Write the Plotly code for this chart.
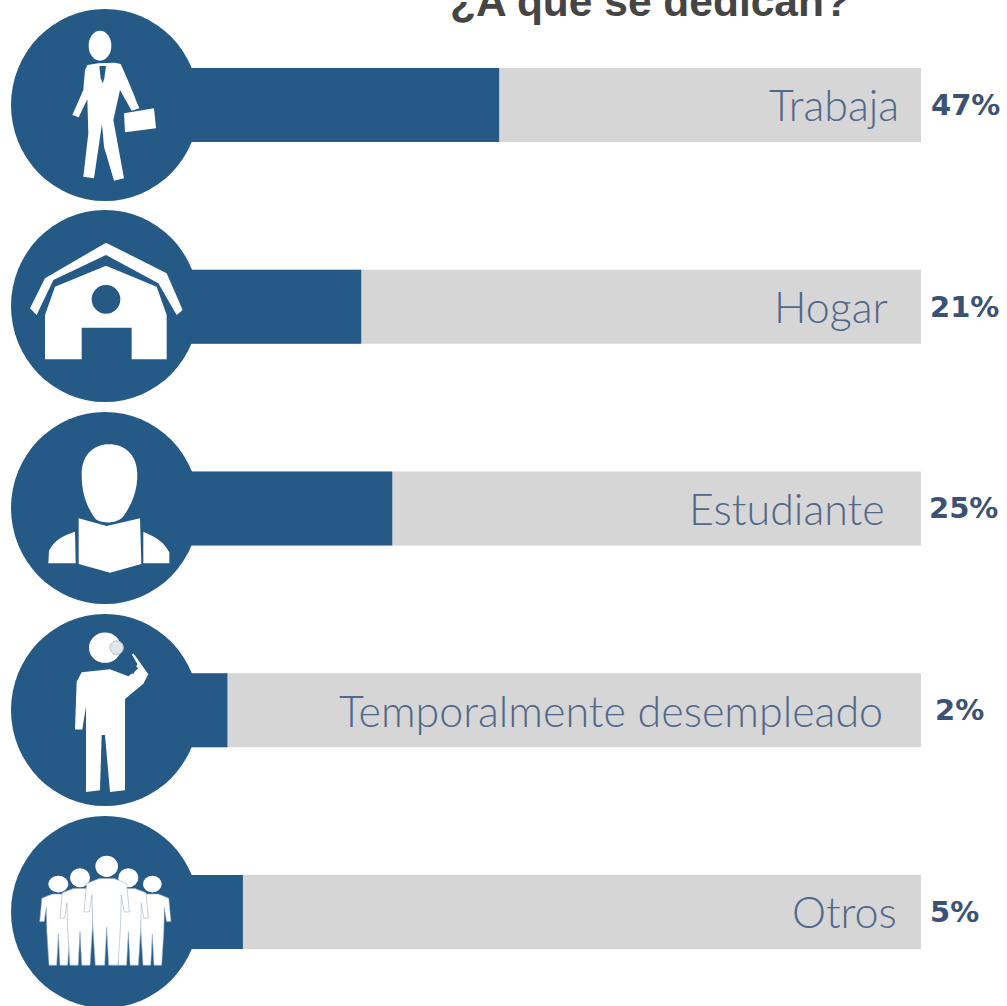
import re
import plotly.graph_objects as go

# ---- data ----
categories = ["Trabaja", "Hogar", "Estudiante", "Temporalmente desempleado", "Otros"]
percent_labels = ["47%", "21%", "25%", "2%", "5%"]
# filled share of each track, as drawn (the picture's bars are not to scale with the labels)
track_fill = [48.3, 31.4, 35.2, 15.0, 16.9]
track_full = [100, 100, 100, 100, 100]
title_text = "¿A que se dedican?"

# ---- style ----
W, H = 1007, 1006
BLUE = "#245a85"
GREY = "#d6d6d6"
TXT = "#50688a"
PCT = "#3c5275"
WHITE = "#ffffff"
X_RANGE = [-12.87, 110.54]
Y_RANGE = [4.466, -0.52]
BAR_W = 0.367
ICON_CX = 105
ROW_CY = [105, 306, 508, 710, 912]
LABEL_RIGHT = [97.5, 96.2, 95.8, 95.6, 97.3]
PCT_X = [965.5, 964, 963, 959, 954]


def p2x(px):
    return px / W


def p2y(py):
    return 1 - py / H


def path(d, dy=0, ys=3.0, fill=WHITE, line=None, lw=0):
    """d is written in the zoom coordinates of the crop, dy the crop's y offset, ys its y scale."""
    toks = re.findall(r"[MLCZ]|-?\d+\.?\d*", d)
    out, nums = [], []
    for t in toks:
        if t in "MLCZ":
            out.append(t)
        else:
            nums.append(float(t))
            if len(nums) == 2:
                out.append(f"{p2x(nums[0] / 3):.5f},{p2y(nums[1] / ys + dy):.5f}")
                nums = []
    return dict(type="path", xref="paper", yref="paper", path=" ".join(out),
                fillcolor=fill, line=dict(width=lw, color=line or fill), layer="above")


def ell(cx, cy, rx, ry, dy=0, ys=3.0, fill=WHITE, line=None, lw=0):
    return dict(type="circle", xref="paper", yref="paper",
                x0=p2x((cx - rx) / 3), x1=p2x((cx + rx) / 3),
                y0=p2y((cy + ry) / ys + dy), y1=p2y((cy - ry) / ys + dy),
                fillcolor=fill, line=dict(width=lw, color=line or fill), layer="above")


shapes = []
# blue discs
for cy in ROW_CY:
    shapes.append(dict(type="circle", xref="paper", yref="paper",
                       x0=p2x(ICON_CX - 94), x1=p2x(ICON_CX + 94),
                       y0=p2y(cy + 96), y1=p2y(cy - 96),
                       fillcolor=BLUE, line=dict(width=0), layer="above"))

# icon 1: businessman
shapes += [
    ell(300, 137, 34, 45),
    path("M 262 195 L 295 190 L 345 188 L 362 192 C 380 230 400 280 418 325 L 395 332 L 360 270 "
         "L 340 360 L 372 535 L 342 542 L 312 440 L 306 372 L 282 535 L 250 530 L 265 400 L 262 298 "
         "L 236 352 L 217 345 L 250 270 L 255 210 Z"),
    path("M 298 198 L 318 198 L 313 235 L 308 250 L 302 235 Z", fill=BLUE),
    path("M 372 340 L 462 325 L 468 385 L 375 397 Z"),
]
# icon 2: barn
shapes += [
    path("M 90 925 L 135 835 L 318 728 L 500 820 L 548 930 L 530 945 L 475 850 L 318 765 L 160 840 L 110 945 Z"),
    path("M 135 1078 L 135 945 L 165 860 L 318 797 L 470 860 L 500 945 L 500 1078 L 395 1078 "
         "L 395 983 L 245 983 L 245 1078 Z"),
    ell(318, 898, 43, 43, fill=BLUE),
]
# icon 3: reader
D3 = 410
YS = 2.63
shapes += [
    path("M 245 170 C 245 110 290 90 328 90 C 370 90 412 115 412 170 C 412 225 385 260 370 280 "
         "C 350 300 300 300 285 285 C 265 260 245 225 245 170 Z", D3, YS),
    path("M 236 285 L 320 305 L 420 285 L 424 405 L 330 428 L 236 405 Z", D3, YS),
    path("M 145 403 L 147 370 C 165 340 190 330 225 320 L 227 403 Z", D3, YS),
    path("M 430 320 C 470 335 495 350 508 375 L 508 403 L 430 403 Z", D3, YS),
]
# icon 4: man with magnifier
shapes += [
    ell(315, 625, 48, 40, D3, YS),
    path("M 225 840 L 230 715 L 245 690 L 330 682 L 385 700 L 415 680 L 385 655 L 400 640 L 445 695 "
         "L 430 720 L 375 760 L 375 1000 L 330 1005 L 315 855 L 305 855 L 300 1000 L 258 1005 L 258 780 L 247 840 Z",
         D3, YS),
    path("M 372 645 L 388 632 L 412 668 L 400 695 L 380 680 Z", D3, YS, fill=BLUE),
    ell(350, 625, 20, 18, D3, YS, fill="#e3e6e8", line="#b5c3cf", lw=1),
]
# icon 5: group
FIG = [(-22, 32), (22, 32), (60, 45), (68, 120), (52, 120), (44, 75), (42, 150), (34, 260), (6, 260),
       (0, 160), (-6, 260), (-34, 260), (-42, 150), (-44, 75), (-52, 120), (-68, 120), (-60, 45)]
GROUP = [(175, 1247, 30, 22, 0.82), (457, 1247, 28, 22, 0.82), (240, 1230, 30, 25, 0.885),
         (385, 1230, 30, 25, 0.885), (320, 1200, 34, 28, 1.0)]
for gx, gy, rx, ry, k in GROUP:
    d = "M " + " L ".join(f"{gx + a * k:.1f} {gy + b * k:.1f}" for a, b in FIG) + " Z"
    shapes.append(path(d, D3, YS, line="#9db3c6", lw=0.6))
    shapes.append(ell(gx, gy, rx, ry, D3, YS))

fig = go.Figure()
fig.add_bar(y=categories, x=track_full, orientation="h", width=BAR_W,
            marker=dict(color=GREY, line=dict(width=0)), hoverinfo="skip")
fig.add_bar(y=categories, x=track_fill, orientation="h", width=BAR_W,
            marker=dict(color=BLUE, line=dict(width=0)))

annotations = [dict(text=title_text, xref="paper", yref="paper", x=p2x(650), y=p2y(27),
                    xanchor="center", yanchor="bottom", showarrow=False,
                    font=dict(family="Liberation Sans", size=42.5, color="#454545", weight="bold"))]
for c, lab, r, px in zip(categories, percent_labels, LABEL_RIGHT, PCT_X):
    annotations.append(dict(text=c, x=r, y=c, xref="x", yref="y", xanchor="right", yanchor="middle",
                            showarrow=False,
                            font=dict(family="Lato", size=43, color=TXT, weight=300)))
    annotations.append(dict(text=lab, xref="paper", yref="y", x=p2x(px), y=c, xanchor="center",
                            yanchor="middle", showarrow=False,
                            font=dict(family="DejaVu Sans", size=29, color=PCT, weight="bold")))

fig.update_layout(
    width=W, height=H, margin=dict(l=0, r=0, t=0, b=0), autosize=False,
    barmode="overlay", showlegend=False, paper_bgcolor=WHITE, plot_bgcolor=WHITE,
    xaxis=dict(range=X_RANGE, visible=False, fixedrange=True),
    yaxis=dict(range=Y_RANGE, visible=False, type="category", categoryorder="array",
               categoryarray=categories, fixedrange=True),
    shapes=shapes, annotations=annotations,
)
fig.write_html("out.html", config=dict(displayModeBar=False),
               post_script="document.body.style.margin='0';document.body.style.overflow='hidden';")
